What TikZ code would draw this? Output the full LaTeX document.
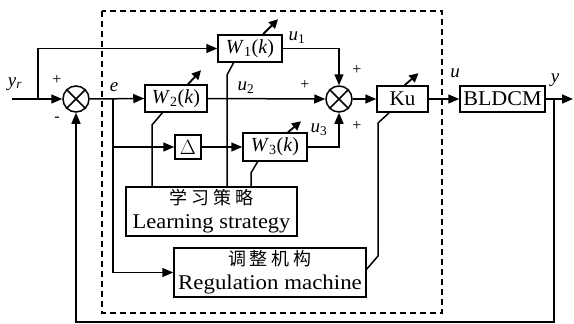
\documentclass[tikz,border=0pt]{standalone}
\usepackage{fontspec}
\setmainfont{Liberation Serif}
\newfontfamily\cjk{Noto Sans CJK SC}
\usetikzlibrary{arrows.meta}
\begin{document}
\begin{tikzpicture}[x=1pt,y=-1pt, line width=1.5pt,
  blk/.style={draw, rectangle, inner sep=0pt, font=\fontsize{20}{22}\selectfont},
  big/.style={draw, rectangle, inner sep=0pt, align=center, font=\fontsize{21}{24}\selectfont},
  sumc/.style={draw, circle, minimum size=26pt, inner sep=0pt},
  sig/.style={-{Triangle[length=11pt,width=9pt]}},
  adj/.style={line width=1.8pt, -{Triangle[length=9pt,width=9pt]}},
  lbl/.style={font=\fontsize{19}{20}\selectfont, inner sep=0pt},
  pm/.style={font=\fontsize{16}{16}\selectfont, inner sep=0pt},
  frame/.style={line width=1.1pt, dash pattern=on 6pt off 4pt},
  cn/.style={}
]
\useasboundingbox (0,0) rectangle (574,324);

% dashed controller frame
\draw[frame] (102,11) rectangle (442,313);

% blocks
\node[blk, minimum width=64pt, minimum height=27pt] (W1) at (250,48.5) {\textit{W}\textsubscript{1}(\textit{k})};
\node[blk, minimum width=62pt, minimum height=27pt] (W2) at (176,98.5) {\textit{W}\textsubscript{2}(\textit{k})};
\node[blk, minimum width=26pt, minimum height=24pt] (D) at (188,147) {$\Delta$};
\node[blk, minimum width=64pt, minimum height=28pt] (W3) at (275,147) {\textit{W}\textsubscript{3}(\textit{k})};
\node[blk, minimum width=51pt, minimum height=26pt, font=\fontsize{21}{22}\selectfont] (Ku) at (402.5,99) {Ku};
\node[blk, minimum width=85pt, minimum height=26pt, font=\fontsize{21}{22}\selectfont] (BL) at (502.5,99) {\scalebox{1.05}[1]{BLDCM}};
\node[big, minimum width=171pt, minimum height=49pt] (LS) at (211.5,211.5)
  {{\cjk\fontsize{18}{20}\selectfont 学\kern4pt 习\kern4pt 策\kern4pt 略}\\\scalebox{1.07}[1]{Learning strategy}};
\node[big, minimum width=192pt, minimum height=49pt] (RM) at (270,272.5)
  {{\cjk\fontsize{18}{20}\selectfont 调\kern4pt 整\kern4pt 机\kern4pt 构}\\\scalebox{1.09}[1]{Regulation machine}};

% summing junctions
\node[sumc] (s1) at (76,99) {};
\draw (s1.45) -- (s1.225) (s1.135) -- (s1.315);
\node[sumc] (s2) at (339,99) {};
\draw (s2.45) -- (s2.225) (s2.135) -- (s2.315);

% coordinates
\coordinate (in) at (12,99);
\coordinate (b0) at (38,99);
\coordinate (be) at (113,99);
\coordinate (bd) at (113,147);
\coordinate (by) at (554,99);
\coordinate (out) at (573,99);
\coordinate (fb) at (554,322);

% signal wires
\draw[sig] (in) -- (s1.west);
\draw[sig] (b0) |- (W1.west);
\draw[sig] (s1.east) -- (W2.west);
\draw[sig] (be) |- (RM.west);
\draw[sig] (bd) -- (D.west);
\draw[sig] (D.east) -- (W3.west);
\draw[sig] (W2.east) -- (s2.west);
\draw[sig] (W1.east) -| (s2.north);
\draw[sig] (W3.east) -| (s2.south);
\draw[sig] (s2.east) -- (Ku.west);
\draw[sig] (Ku.east) -- (BL.west);
\draw[sig] (BL.east) -- (out);
\draw[sig] (by) -- (fb) -| (s1.south);

% learning strategy links
\coordinate (k1) at (152,125); \coordinate (k1t) at (163,112);
\draw (k1 |- LS.north) -- (k1) -- (k1t);
\coordinate (k2) at (227,75); \coordinate (k2t) at (234,62);
\draw (k2 |- LS.north) -- (k2) -- (k2t);
\coordinate (k3) at (251,173); \coordinate (k3t) at (258,161);
\draw (k3 |- LS.north) -- (k3) -- (k3t);
% regulation link
\coordinate (r1) at (366,270); \coordinate (r2) at (378,256);
\coordinate (r3) at (378,123); \coordinate (r4) at (390,112);
\draw (r1) -- (r2) -- (r3) -- (r4);

% adjustment arrows
\draw[adj] ([xshift=13pt]W1.north) -- ++(15,-15);
\draw[adj] ([xshift=12pt]W2.north) -- ++(13,-14);
\draw[adj] ([xshift=13pt]W3.north) -- ++(13,-11);
\draw[adj] ([xshift=2pt]Ku.north) -- ++(14,-12);

% labels
\node[lbl] at (15,84) {\textit{y}\textsubscript{\textit{r}}};
\node[pm] at (57,80) {+};
\node[pm] at (57,119) {-};
\node[lbl] at (114,87) {\textit{e}};
\node[lbl] at (297,38) {\textit{u}\textsubscript{1}};
\node[lbl] at (246,88) {\textit{u}\textsubscript{2}};
\node[lbl] at (319,130) {\textit{u}\textsubscript{3}};
\node[pm] at (305,85) {+};
\node[pm] at (357,70) {+};
\node[pm] at (357,126) {+};
\node[lbl] at (455,73) {\textit{u}};
\node[lbl] at (555,80) {\textit{y}};
\end{tikzpicture}
\end{document}
